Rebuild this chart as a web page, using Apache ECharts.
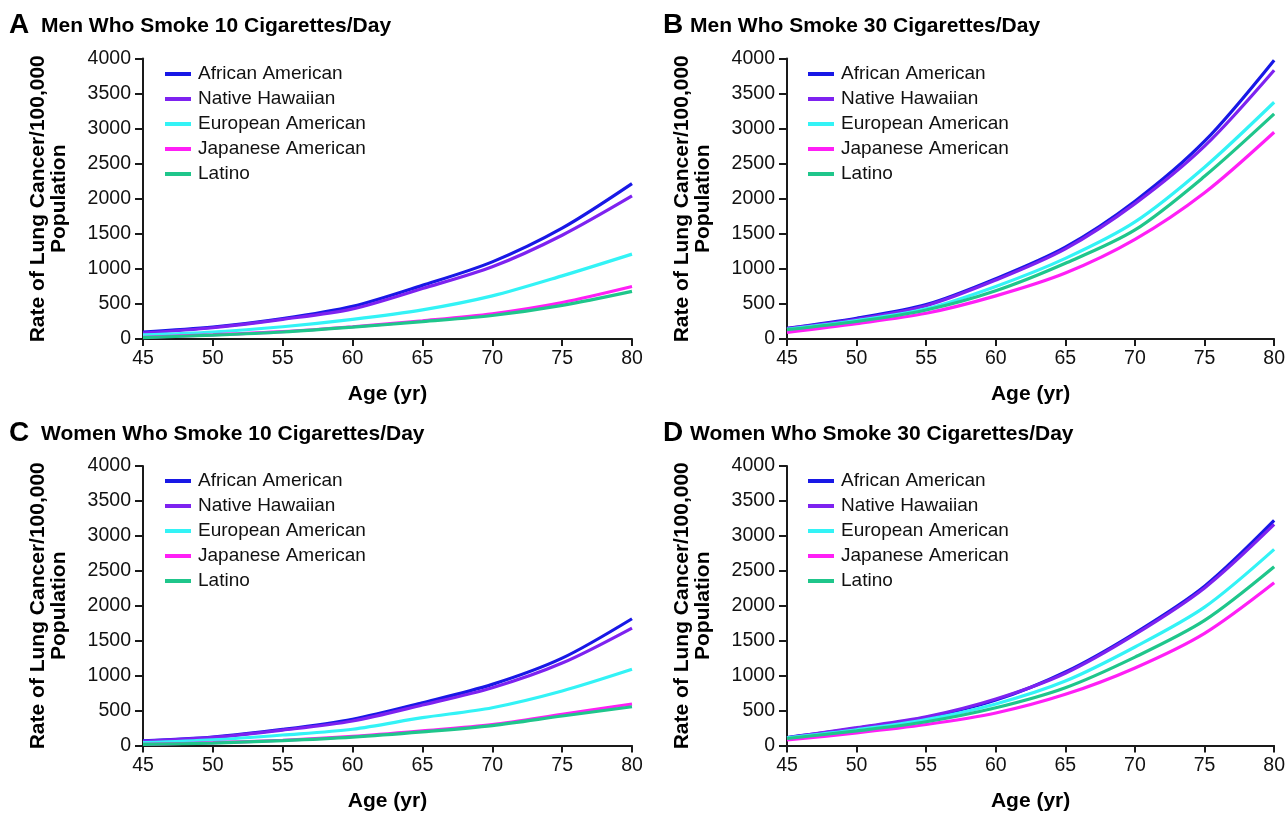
<!DOCTYPE html>
<html>
<head>
<meta charset="utf-8">
<script src="https://cdn.jsdelivr.net/npm/echarts@6/dist/echarts.min.js"></script>
<style>
html,body{margin:0;padding:0;background:#fff;}
#chart{width:1288px;height:813px;}
</style>
</head>
<body>
<div id="chart"></div>
<script>
// ---------------- DATA ----------------
const ages = [45, 50, 55, 60, 65, 70, 75, 80];
const groups = ['African American', 'Native Hawaiian', 'European American', 'Japanese American', 'Latino'];
const yTicks = [0, 500, 1000, 1500, 2000, 2500, 3000, 3500, 4000];

// Panel A: Men who smoke 10 cigarettes/day
const men10_AfricanAmerican   = [100, 170, 290, 465, 765, 1100, 1580, 2215];
const men10_NativeHawaiian    = [85, 160, 280, 430, 720, 1030, 1480, 2040];
const men10_EuropeanAmerican  = [60, 100, 175, 280, 415, 615, 900, 1210];
const men10_JapaneseAmerican  = [25, 60, 105, 175, 260, 360, 520, 748];
const men10_Latino            = [20, 55, 100, 168, 248, 335, 480, 680];

// Panel B: Men who smoke 30 cigarettes/day
const men30_AfricanAmerican   = [152, 295, 490, 860, 1310, 1965, 2820, 3976];
const men30_NativeHawaiian    = [150, 282, 475, 840, 1285, 1930, 2750, 3833];
const men30_EuropeanAmerican  = [138, 262, 430, 750, 1150, 1670, 2450, 3376];
const men30_JapaneseAmerican  = [95, 219, 367, 615, 940, 1420, 2085, 2948];
const men30_Latino            = [133, 250, 414, 688, 1080, 1555, 2320, 3210];

// Panel C: Women who smoke 10 cigarettes/day
const women10_AfricanAmerican  = [65, 120, 230, 376, 612, 875, 1250, 1814];
const women10_NativeHawaiian   = [60, 115, 220, 351, 579, 827, 1180, 1681];
const women10_EuropeanAmerican = [40, 80, 150, 233, 398, 541, 780, 1090];
const women10_JapaneseAmerican = [15, 40, 75, 130, 210, 300, 446, 594];
const women10_Latino           = [15, 35, 70, 120, 195, 285, 422, 555];

// Panel D: Women who smoke 30 cigarettes/day
const women30_AfricanAmerican  = [115, 245, 400, 650, 1052, 1610, 2280, 3221];
const women30_NativeHawaiian   = [110, 255, 410, 665, 1035, 1590, 2255, 3164];
const women30_EuropeanAmerican = [110, 225, 370, 595, 923, 1410, 1980, 2807];
const women30_JapaneseAmerican = [80, 180, 300, 465, 732, 1110, 1605, 2329];
const women30_Latino           = [100, 210, 340, 540, 827, 1265, 1790, 2558];

const panelLetters = ['A', 'B', 'C', 'D'];
const panelTitles = [
  'Men Who Smoke 10 Cigarettes/Day',
  'Men Who Smoke 30 Cigarettes/Day',
  'Women Who Smoke 10 Cigarettes/Day',
  'Women Who Smoke 30 Cigarettes/Day'
];
const panelData = [
  [men10_AfricanAmerican, men10_NativeHawaiian, men10_EuropeanAmerican, men10_JapaneseAmerican, men10_Latino],
  [men30_AfricanAmerican, men30_NativeHawaiian, men30_EuropeanAmerican, men30_JapaneseAmerican, men30_Latino],
  [women10_AfricanAmerican, women10_NativeHawaiian, women10_EuropeanAmerican, women10_JapaneseAmerican, women10_Latino],
  [women30_AfricanAmerican, women30_NativeHawaiian, women30_EuropeanAmerican, women30_JapaneseAmerican, women30_Latino]
];
const yAxisTitle = 'Rate of Lung Cancer/100,000\nPopulation';
const xAxisTitle = 'Age (yr)';

// ---------------- STYLE / LAYOUT ----------------
const colors = ['#1818e6', '#7e22f0', '#33f3f6', '#ff1ff6', '#1fc68b'];
const FONT = '"Liberation Sans", Arial, Helvetica, sans-serif';
const layout = [
  {left: 143, top: 58.5, height: 280.5, letterX: 9,   titleX: 41,  titleY: 16,  legendX: 165, legendY: 61.5},
  {left: 787, top: 58.5, height: 280.5, letterX: 663, titleX: 690, titleY: 16,  legendX: 808, legendY: 61.5},
  {left: 143, top: 466,  height: 279.5, letterX: 9,   titleX: 41,  titleY: 424, legendX: 165, legendY: 468.5},
  {left: 787, top: 466,  height: 279.5, letterX: 663, titleX: 690, titleY: 424, legendX: 808, legendY: 468.5}
];
const plotWidth = 489;

const option = {
  backgroundColor: '#ffffff',
  animation: false,
  title: [],
  grid: [],
  xAxis: [],
  yAxis: [],
  legend: [],
  series: []
};

layout.forEach((L, p) => {
  option.title.push({
    text: panelLetters[p], left: L.letterX, top: L.titleY - 5, padding: 0,
    textStyle: {fontFamily: FONT, fontSize: 28, fontWeight: 'bold', color: '#000'}
  });
  option.title.push({
    text: panelTitles[p], left: L.titleX, top: L.titleY, padding: 0,
    textStyle: {fontFamily: FONT, fontSize: 21, fontWeight: 'bold', color: '#000'}
  });
  option.grid.push({left: L.left, top: L.top, width: plotWidth, height: L.height, containLabel: false});
  option.xAxis.push({
    type: 'value', gridIndex: p, min: ages[0], max: ages[ages.length - 1], interval: 5,
    name: xAxisTitle, nameLocation: 'middle', nameGap: 45,
    nameTextStyle: {fontFamily: FONT, fontSize: 21, fontWeight: 'bold', color: '#000'},
    axisLine: {onZero: false, lineStyle: {color: '#1a1a1a', width: 2}},
    axisTick: {show: true, length: 7, lineStyle: {color: '#1a1a1a', width: 2}},
    axisLabel: {fontFamily: FONT, fontSize: 19.5, color: '#111', margin: 10},
    splitLine: {show: false}
  });
  option.yAxis.push({
    type: 'value', gridIndex: p, min: yTicks[0], max: yTicks[yTicks.length - 1], interval: 500,
    name: yAxisTitle, nameLocation: 'middle', nameGap: 73, nameRotate: 90,
    nameTextStyle: {fontFamily: FONT, fontSize: 21, fontWeight: 'bold', color: '#000', lineHeight: 21, align: 'center'},
    axisLine: {show: true, lineStyle: {color: '#1a1a1a', width: 2}},
    axisTick: {show: true, length: 8, lineStyle: {color: '#1a1a1a', width: 2}},
    axisLabel: {fontFamily: FONT, fontSize: 19.5, color: '#111', margin: 12, formatter: (v) => String(v)},
    splitLine: {show: false}
  });
  const legendIds = [];
  groups.forEach((g, s) => {
    const id = panelLetters[p] + ':' + g;
    legendIds.push({name: id});
    option.series.push({
      type: 'line', name: id, xAxisIndex: p, yAxisIndex: p,
      data: ages.map((a, i) => [a, panelData[p][s][i]]),
      smooth: 0.3, showSymbol: false, symbol: 'none',
      color: colors[s],
      lineStyle: {color: colors[s], width: 3.2}
    });
  });
  option.legend.push({
    data: legendIds, orient: 'vertical', left: L.legendX, top: L.legendY,
    icon: 'rect', itemWidth: 26, itemHeight: 4, itemGap: 0, padding: 0,
    selectedMode: false,
    formatter: (n) => n.split(':')[1],
    textStyle: {fontFamily: FONT, fontSize: 19, color: '#111', lineHeight: 25, padding: [0, 0, 0, 2]}
  });
});

const chart = echarts.init(document.getElementById('chart'), null, {renderer: 'canvas'});
chart.setOption(option);
</script>
</body>
</html>
